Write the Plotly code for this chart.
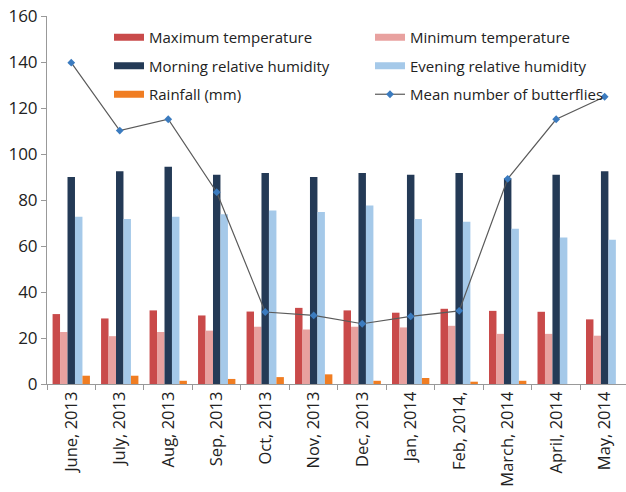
import plotly.graph_objects as go

months = ["June, 2013", "July, 2013", "Aug, 2013", "Sep, 2013", "Oct, 2013", "Nov, 2013",
          "Dec, 2013", "Jan, 2014", "Feb, 2014,", "March, 2014", "April, 2014", "May, 2014"]
max_temp = [30.4, 28.5, 32.0, 29.8, 31.5, 33.1, 32.0, 31.0, 32.7, 31.8, 31.4, 28.1]
min_temp = [22.6, 20.8, 22.6, 23.2, 24.9, 23.7, 24.9, 24.6, 25.3, 21.8, 21.8, 21.0]
morning_rh = [90, 92.5, 94.5, 91, 91.7, 90, 91.7, 91, 91.7, 89.3, 91, 92.5]
evening_rh = [72.7, 71.7, 72.7, 73.8, 75.4, 74.8, 77.6, 71.7, 70.5, 67.5, 63.7, 62.7]
rainfall = [3.6, 3.6, 1.4, 2.2, 3.0, 4.2, 1.4, 2.6, 1.0, 1.4, 0, 0]
butterflies = [139.7, 110.2, 115.1, 83.4, 31.3, 29.8, 26.2, 29.4, 31.8, 89.2, 115.1, 124.9]

FONT = "Open Sans"
TXT = "#222222"
fig = go.Figure()
bars = [
    ("Maximum temperature", max_temp, "#C94A4A", "legend"),
    ("Minimum temperature", min_temp, "#E8A19F", "legend2"),
    ("Morning relative humidity", morning_rh, "#243A56", "legend"),
    ("Evening relative humidity", evening_rh, "#A5C9E9", "legend2"),
    ("Rainfall (mm)", rainfall, "#F07D22", "legend"),
]
for name, vals, col, lg in bars:
    fig.add_trace(go.Bar(x=months, y=vals, name=name, marker_color=col,
                         marker_line_width=0, showlegend=False))
line_col = "#5A5A5A"
mk_col = "#3B7BBF"
fig.add_trace(go.Scatter(x=months, y=butterflies, name="Mean number of butterflies",
                         mode="lines+markers", showlegend=False,
                         line=dict(color=line_col, width=1.2),
                         marker=dict(symbol="diamond", size=6, color=mk_col)))

# legend swatches (wide rectangles like the reference)
for name, vals, col, lg in bars:
    fig.add_trace(go.Scatter(x=[None], y=[None], name=name, mode="lines",
                             line=dict(color=col, width=7), legend=lg, legendgroup=name))
fig.add_trace(go.Scatter(x=[None], y=[None], name="Mean number of butterflies",
                         mode="lines+markers", line=dict(color=line_col, width=1.2),
                         marker=dict(symbol="diamond", size=6, color=mk_col),
                         legend="legend2", legendgroup="mean"))

leg_common = dict(orientation="v", xanchor="left", yanchor="top", xref="container",
                  yref="container", font=dict(size=15, family=FONT, color=TXT),
                  bgcolor="rgba(0,0,0,0)", tracegroupgap=6)
fig.update_layout(
    width=626, height=492,
    margin=dict(l=47, r=0, t=16, b=108, autoexpand=False),
    plot_bgcolor="white", paper_bgcolor="white",
    barmode="group", bargap=0.23, bargroupgap=0,
    font=dict(family=FONT, color=TXT),
    showlegend=True,
    legend=dict(x=109 / 626, y=1 - 21 / 492, **leg_common),
    legend2=dict(x=370 / 626, y=1 - 21 / 492, **leg_common),
)
fig.update_xaxes(type="category", range=[-0.5, 11.44], showline=True, linecolor="#999999",
                 linewidth=1, ticks="outside", tickson="boundaries", ticklen=5,
                 tickcolor="#999999", tickangle=-90,
                 tickfont=dict(size=16.5, family=FONT, color=TXT), showgrid=False)
fig.update_yaxes(range=[0, 160], dtick=20, showline=True, linecolor="#999999", linewidth=1,
                 ticks="outside", ticklen=5, tickcolor="#999999", showgrid=False,
                 zeroline=False, tickfont=dict(size=17, family=FONT, color=TXT))

fig.write_html("out.html", config={"displayModeBar": False},
               post_script="document.body.style.margin='0';")
